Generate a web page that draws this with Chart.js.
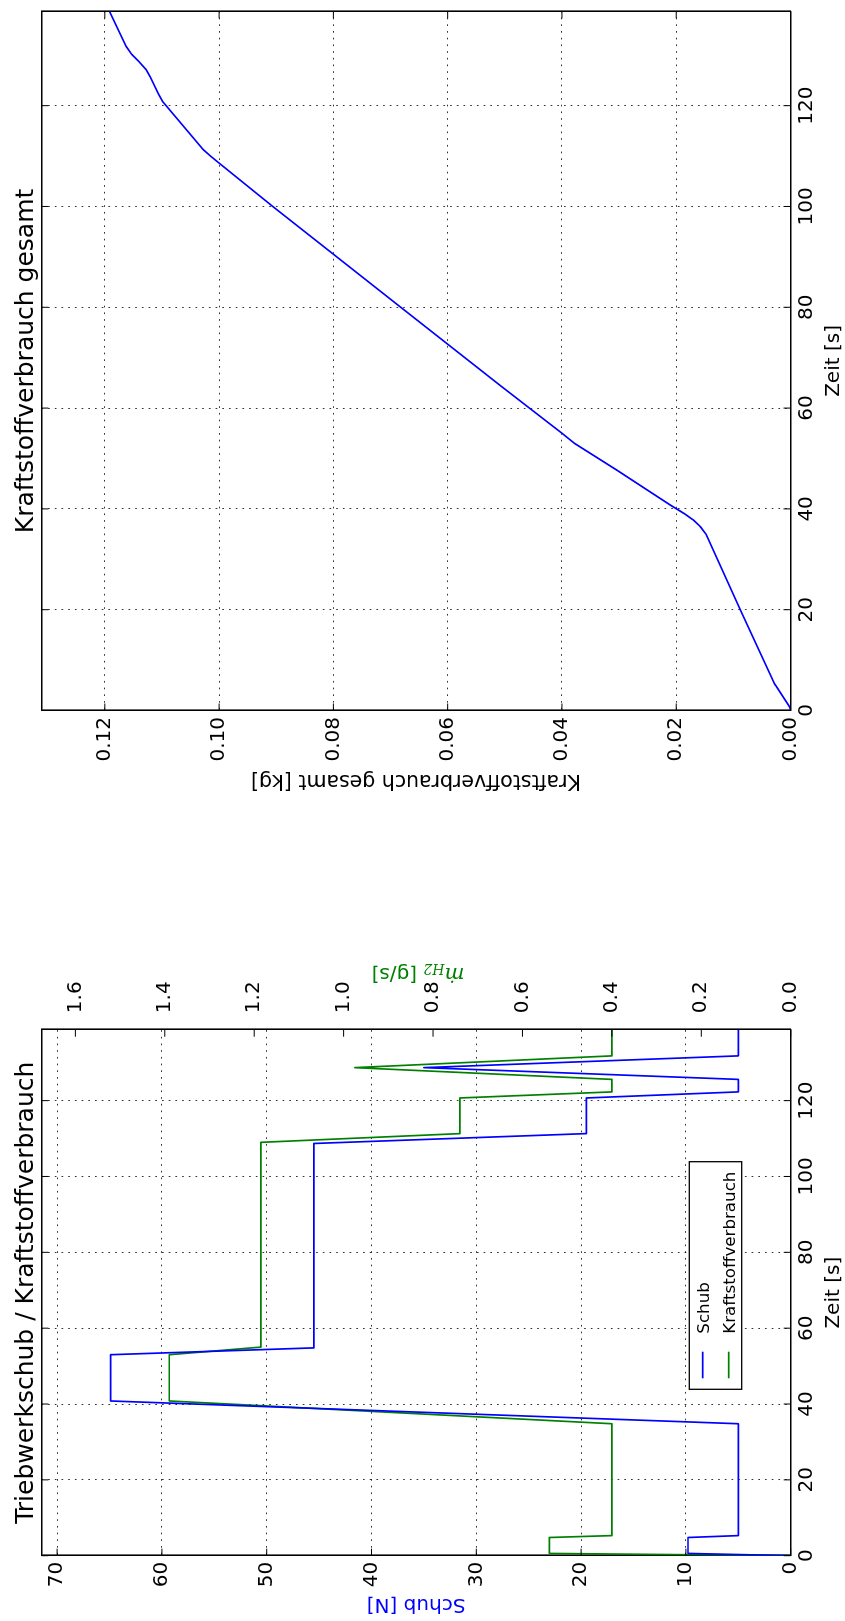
<!DOCTYPE html>
<html>
<head>
<meta charset="utf-8">
<script src="https://cdn.jsdelivr.net/npm/chart.js@4.4.1/dist/chart.umd.min.js"></script>
<style>
  html, body { margin: 0; padding: 0; background: #fff; overflow: hidden; }
  /* Figur ist quer gezeichnet und um 90 Grad gegen den Uhrzeigersinn gedreht */
  #figur { position: absolute; left: 0; top: 0; width: 1621px; height: 845px;
           transform-origin: 0 0; transform: translate(0, 1621px) rotate(-90deg); background: #fff; }
  #links { position: absolute; left: 0; top: 0; }
  #rechts { position: absolute; left: 800px; top: 0; }
</style>
</head>
<body>
<div id="figur">
  <canvas id="links" width="800" height="845"></canvas>
  <canvas id="rechts" width="821" height="845"></canvas>
</div>
<script>
// Schub [N] ueber Zeit [s]
const schubZeit = [0, 0.6, 4.8, 5.3, 34.8, 40.8, 53.0, 54.8, 108.7, 111.3, 120.7, 122.3, 125.6, 128.7, 131.8, 138.7];
const schubN    = [0, 9.8, 9.8, 5.0, 5.0, 64.9, 64.9, 45.5, 45.5, 19.5, 19.5, 5.0, 5.0, 35.0, 5.0, 5.0];

// Kraftstoffverbrauch mdot_H2 [g/s]
const mdotZeit = [0, 0.6, 4.8, 5.3, 34.8, 40.8, 53.0, 55.0, 109.0, 111.3, 120.7, 122.3, 125.6, 128.7, 131.8, 138.7];
const mdotGs   = [0, 0.54, 0.54, 0.40, 0.40, 1.39, 1.39, 1.185, 1.185, 0.74, 0.74, 0.40, 0.40, 0.975, 0.40, 0.40];

// Kraftstoffverbrauch gesamt [kg]
const gesamtZeit = [0, 0.6, 4.8, 5.3, 20, 35.0, 36.5, 37.8, 39.0, 40.8, 47.7, 53.0, 55.0, 64.4, 80, 100, 108.7,
                    110.0, 111.3, 120.7, 122.3, 125.6, 127.2, 128.7, 130.2, 131.8, 138.7];
const gesamtKg   = [0, 0.0001, 0.0025, 0.0028, 0.0088, 0.0148, 0.0158, 0.0170, 0.0185, 0.0211, 0.0304, 0.0378, 0.0400,
                    0.0507, 0.0682, 0.0906, 0.1001, 0.1015, 0.1028, 0.1098, 0.1106, 0.1120, 0.1128, 0.1140, 0.1153,
                    0.1163, 0.1192];

const zeitMax = 138.7;
const schubMax = 71.5;
const mdotMax = 1.676;
const gesamtMax = 0.1311;

Chart.defaults.font.family = "'DejaVu Sans', sans-serif";
Chart.defaults.color = '#000';

const punkte = (xs, ys) => xs.map((x, i) => ({ x: x, y: ys[i] }));
const breite = w => s => { s.width = w; };
const hoehe = h => s => { s.height = h; };

const tickFont = { size: 20, lineHeight: 1.2 };
const gitter = { color: '#000', lineWidth: 0.8, drawTicks: false };
const rahmen = { display: true, color: '#000', width: 1.6, dash: [1.7, 5] };
const nurRahmen = { display: true, color: '#000', width: 1.6 };

// Ticks nach innen auf allen vier Seiten
const innenTicks = {
  id: 'innenTicks',
  afterDatasetsDraw(chart, args, o) {
    const { ctx, chartArea: a } = chart;
    const L = 7;
    const x = chart.scales.x, yl = chart.scales.y, yr = chart.scales[o.rechts];
    ctx.save();
    ctx.strokeStyle = '#000';
    ctx.lineWidth = 1;
    ctx.beginPath();
    x.ticks.forEach(t => {
      const p = x.getPixelForValue(t.value);
      ctx.moveTo(p, a.bottom); ctx.lineTo(p, a.bottom - L);
      ctx.moveTo(p, a.top); ctx.lineTo(p, a.top + L);
    });
    yl.ticks.forEach(t => {
      const p = yl.getPixelForValue(t.value);
      ctx.moveTo(a.left, p); ctx.lineTo(a.left + L, p);
    });
    yr.ticks.forEach(t => {
      const p = yr.getPixelForValue(t.value);
      ctx.moveTo(a.right, p); ctx.lineTo(a.right - L, p);
    });
    ctx.stroke();
    ctx.restore();
  }
};

// Legende im Diagramm, Linienmuster wie bei matplotlib
const legendeBox = {
  id: 'legendeBox',
  afterDatasetsDraw(chart, args, o) {
    const ctx = chart.ctx;
    ctx.save();
    ctx.fillStyle = '#fff';
    ctx.fillRect(o.x, o.y, o.b, o.h);
    ctx.strokeStyle = '#000';
    ctx.lineWidth = 1.3;
    ctx.strokeRect(o.x, o.y, o.b, o.h);
    ctx.font = '16.7px "DejaVu Sans"';
    ctx.textBaseline = 'middle';
    chart.data.datasets.forEach((ds, i) => {
      const yy = o.y + o.erste + i * o.abstand;
      ctx.strokeStyle = ds.borderColor;
      ctx.lineWidth = 1.7;
      ctx.beginPath();
      ctx.moveTo(o.x + o.linieVon, yy);
      ctx.lineTo(o.x + o.linieBis, yy);
      ctx.stroke();
      ctx.fillStyle = '#000';
      ctx.fillText(ds.label, o.x + o.textX, yy + 2);
    });
    ctx.restore();
  }
};

// rechte Achsenbeschriftung, wie matplotlib von unten nach oben lesbar
const rechterTitel = {
  id: 'rechterTitel',
  afterDraw(chart, args, o) {
    const ctx = chart.ctx;
    ctx.save();
    ctx.translate(o.x, o.y);
    ctx.rotate(-Math.PI / 2);
    ctx.fillStyle = o.farbe;
    ctx.textBaseline = 'alphabetic';
    let gesamt = 0;
    const w = o.teile.map(t => { ctx.font = t.font; const m = ctx.measureText(t.text).width; gesamt += m; return m; });
    let px = -gesamt / 2;
    o.teile.forEach((t, i) => { ctx.font = t.font; ctx.fillText(t.text, px, t.dy || 0); px += w[i]; });
    ctx.restore();
  }
};

new Chart(document.getElementById('links'), {
  type: 'line',
  data: {
    datasets: [
      { label: 'Schub', data: punkte(schubZeit, schubN), borderColor: '#0000ff', yAxisID: 'y' },
      { label: 'Kraftstoffverbrauch', data: punkte(mdotZeit, mdotGs), borderColor: '#008000', yAxisID: 'y2' }
    ]
  },
  options: {
    responsive: false,
    animation: false,
    devicePixelRatio: 1,
    elements: { point: { radius: 0 }, line: { borderWidth: 1.7, tension: 0, fill: false, borderJoinStyle: 'round' } },
    plugins: {
      legend: { display: false },
      tooltip: { enabled: false },
      title: { display: true, text: 'Triebwerkschub / Kraftstoffverbrauch', fullSize: false, color: '#000',
               font: { size: 25, weight: 'normal', lineHeight: 1.2 }, padding: { top: 11, bottom: 0 } },
      innenTicks: { rechts: 'y2' },
      legendeBox: { x: 231.7, y: 689.3, b: 227.6, h: 52.4, erste: 13.4, abstand: 26, linieVon: 11, linieBis: 37.6, textX: 55.6 },
      rechterTitel: { x: 653, y: 418, farbe: '#008000', teile: [
        { text: 'ṁ', font: 'italic 21px "DejaVu Serif"' },
        { text: 'H2', font: 'italic 14px "DejaVu Serif"', dy: 4 },
        { text: ' [g/s]', font: '20px "DejaVu Sans"' }
      ] }
    },
    scales: {
      x: { type: 'linear', position: 'bottom', min: 0, max: zeitMax,
           ticks: { stepSize: 20, includeBounds: false, font: tickFont, padding: 4, maxRotation: 0, autoSkip: false },
           grid: gitter, border: rahmen,
           title: { display: true, text: 'Zeit [s]', font: { size: 20, lineHeight: 1 }, padding: { top: 0, bottom: 1 } },
           afterFit: hoehe(54.3) },
      xOben: { type: 'linear', position: 'top', min: 0, max: zeitMax, ticks: { display: false },
               grid: { display: false }, border: nurRahmen, afterFit: hoehe(0.4) },
      y: { type: 'linear', position: 'left', min: 0, max: schubMax,
           ticks: { stepSize: 10, includeBounds: false, font: tickFont, padding: 6 },
           grid: gitter, border: rahmen,
           title: { display: true, text: 'Schub [N]', color: '#0000ff', font: { size: 20 }, padding: { top: 5 } },
           afterFit: breite(65.3) },
      y2: { type: 'linear', position: 'right', min: 0, max: mdotMax,
            ticks: { stepSize: 0.2, includeBounds: false, font: tickFont, padding: 8.5, callback: v => v.toFixed(1) },
            grid: { display: false }, border: nurRahmen, afterFit: breite(208.7) }
    }
  },
  plugins: [innenTicks, legendeBox, rechterTitel]
});

new Chart(document.getElementById('rechts'), {
  type: 'line',
  data: {
    datasets: [
      { label: 'Kraftstoffverbrauch gesamt', data: punkte(gesamtZeit, gesamtKg), borderColor: '#0000ff', yAxisID: 'y' }
    ]
  },
  options: {
    responsive: false,
    animation: false,
    devicePixelRatio: 1,
    elements: { point: { radius: 0 }, line: { borderWidth: 1.7, tension: 0, fill: false, borderJoinStyle: 'round' } },
    plugins: {
      legend: { display: false },
      tooltip: { enabled: false },
      title: { display: true, text: 'Kraftstoffverbrauch gesamt', fullSize: false, color: '#000',
               font: { size: 25, weight: 'normal', lineHeight: 1.2 }, padding: { top: 11, bottom: 0 } },
      innenTicks: { rechts: 'y' }
    },
    scales: {
      x: { type: 'linear', position: 'bottom', min: 0, max: zeitMax,
           ticks: { stepSize: 20, includeBounds: false, font: tickFont, padding: 4, maxRotation: 0, autoSkip: false },
           grid: gitter, border: rahmen,
           title: { display: true, text: 'Zeit [s]', font: { size: 20, lineHeight: 1 }, padding: { top: 0, bottom: 1 } },
           afterFit: hoehe(54.5) },
      xOben: { type: 'linear', position: 'top', min: 0, max: zeitMax, ticks: { display: false },
               grid: { display: false }, border: nurRahmen, afterFit: hoehe(0.4) },
      y: { type: 'linear', position: 'left', min: 0, max: gesamtMax,
           ticks: { stepSize: 0.02, includeBounds: false, font: tickFont, padding: 6.5, callback: v => v.toFixed(2) },
           grid: gitter, border: rahmen,
           title: { display: true, text: 'Kraftstoffverbrauch gesamt [kg]', font: { size: 20.5 }, padding: { top: 28 } },
           afterFit: breite(110.5) },
      yRechts: { type: 'linear', position: 'right', ticks: { display: false },
                 grid: { display: false }, border: nurRahmen, afterFit: breite(11.4) }
    }
  },
  plugins: [innenTicks]
});
</script>
</body>
</html>
